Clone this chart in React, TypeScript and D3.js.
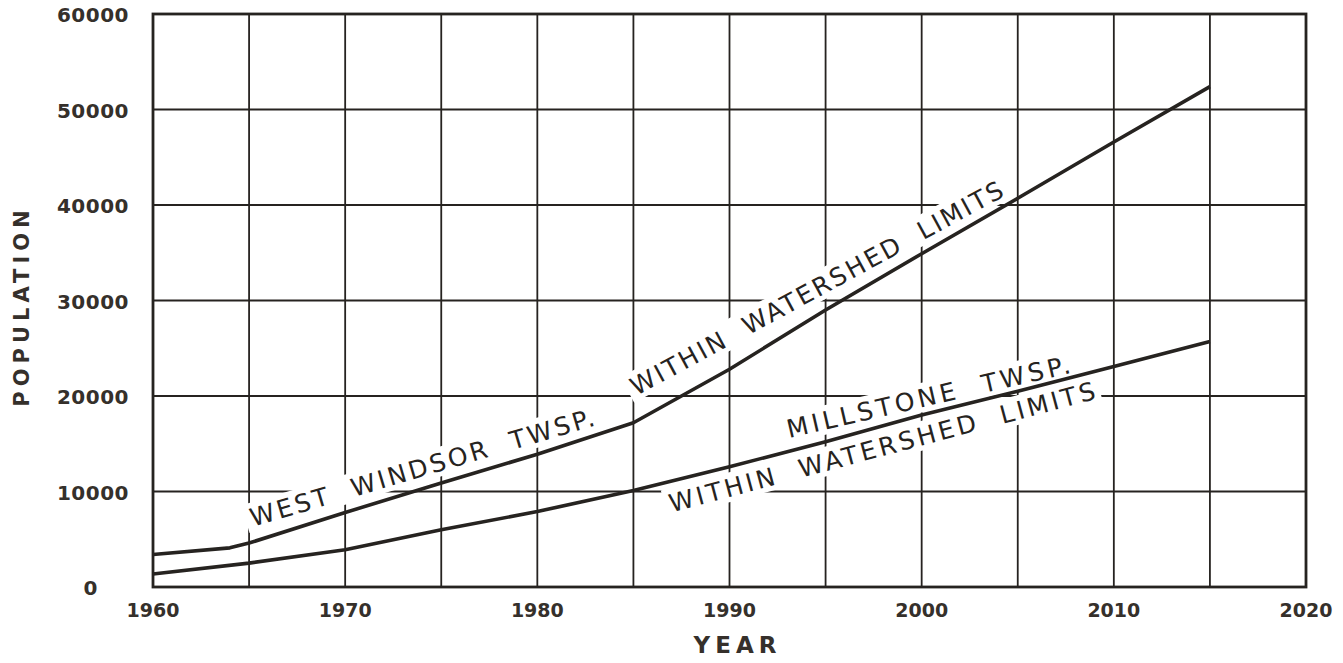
import React from "react";
import * as d3 from "d3";

const xTicks = [1960, 1970, 1980, 1990, 2000, 2010, 2020];
const xGrid = [1960, 1965, 1970, 1975, 1980, 1985, 1990, 1995, 2000, 2005, 2010, 2015, 2020];
const yTicks = [0, 10000, 20000, 30000, 40000, 50000, 60000];

const westWindsorYears = [1960, 1964, 1965, 1970, 1975, 1980, 1985, 1990, 1995, 2000, 2005, 2010, 2015];
const westWindsorPop = [3400, 4100, 4600, 7800, 10900, 13900, 17200, 22800, 29000, 34900, 40700, 46600, 52400];

const millstoneYears = [1960, 1965, 1970, 1975, 1980, 1985, 1990, 1995, 2000, 2005, 2010, 2015];
const millstonePop = [1360, 2500, 3900, 6000, 7900, 10100, 12600, 15200, 18000, 20500, 23100, 25700];

const labelTexts = ["WEST  WINDSOR  TWSP.", "WITHIN  WATERSHED  LIMITS", "MILLSTONE  TWSP.", "WITHIN  WATERSHED  LIMITS"];
const labelYears = [1965.2, 1985.15, 1993.1, 1987.0];
const labelValues = [6300, 20000, 15600, 7800];
const labelAngles = [-16.5, -28.5, -13, -15];
const labelLengths = [358, 420, 290, 440];

const W = 1343;
const H = 663;
const x = d3.scaleLinear().domain([1960, 2020]).range([153, 1306]);
const y = d3.scaleLinear().domain([0, 60000]).range([587, 14]);

const ink = "#262320";
const font = "'DejaVu Sans', sans-serif";

export default function App() {
  const line = d3
    .line<[number, number]>()
    .x((d) => x(d[0]))
    .y((d) => y(d[1]));
  const ww = line(westWindsorYears.map((yr, i) => [yr, westWindsorPop[i]]) as [number, number][]);
  const ms = line(millstoneYears.map((yr, i) => [yr, millstonePop[i]]) as [number, number][]);

  const tf = (i: number) =>
    `translate(${x(labelYears[i])},${y(labelValues[i])}) rotate(${labelAngles[i]})`;

  return (
    <svg
      width={W}
      height={H}
      style={{ position: "absolute", left: 0, top: 0, background: "#fff" }}
    >
      <rect x={0} y={0} width={W} height={H} fill="#fff" />
      {/* grid */}
      {xGrid.map((g) => (
        <line key={"vx" + g} x1={x(g)} x2={x(g)} y1={y(0)} y2={y(60000)} stroke={ink} strokeWidth={1.8} />
      ))}
      {yTicks.map((t) => (
        <line key={"hy" + t} x1={x(1960)} x2={x(2020)} y1={y(t)} y2={y(t)} stroke={ink} strokeWidth={1.8} />
      ))}
      {/* frame */}
      <rect
        x={x(1960)}
        y={y(60000)}
        width={x(2020) - x(1960)}
        height={y(0) - y(60000)}
        fill="none"
        stroke={ink}
        strokeWidth={2.8}
      />
      {/* white bands behind annotations (grid broken under lettering) */}
      {labelTexts.map((t, i) => (
        <rect
          key={"band" + i}
          transform={tf(i)}
          x={-5}
          y={-24}
          width={labelLengths[i] + 10}
          height={29}
          fill="#fff"
        />
      ))}
      {/* data lines */}
      <path d={ww ?? ""} fill="none" stroke={ink} strokeWidth={3.6} strokeLinejoin="round" />
      <path d={ms ?? ""} fill="none" stroke={ink} strokeWidth={3.6} strokeLinejoin="round" />

      {/* annotations */}
      {labelTexts.map((t, i) => (
        <text
          key={"lab" + i}
          transform={tf(i)}
          fontFamily={font}
          fontSize={25}
          fill={ink}
          textLength={labelLengths[i]}
          lengthAdjust="spacing"
          style={{ whiteSpace: "pre" }}
        >
          {t}
        </text>
      ))}

      {/* y tick labels */}
      {yTicks.map((t) => (
        <text
          key={"yt" + t}
          x={t === 0 ? 98 : 129}
          y={y(t) + 8}
          textAnchor="end"
          fontFamily={font}
          fontWeight="bold"
          fontSize={20}
          fill="#35302b"
          letterSpacing={0.5}
        >
          {t}
        </text>
      ))}
      {/* x tick labels */}
      {xTicks.map((t) => (
        <text
          key={"xt" + t}
          x={x(t)}
          y={617}
          textAnchor="middle"
          fontFamily={font}
          fontWeight="bold"
          fontSize={19}
          fill="#35302b"
        >
          {t}
        </text>
      ))}
      {/* axis titles */}
      <text
        x={(x(1960) + x(2020)) / 2 + 8}
        y={653}
        textAnchor="middle"
        fontFamily={font}
        fontWeight="bold"
        fontSize={23}
        letterSpacing={5}
        fill="#35302b"
      >
        YEAR
      </text>
      <text
        transform={`translate(29,${306}) rotate(-90)`}
        textAnchor="middle"
        fontFamily={font}
        fontWeight="bold"
        fontSize={21}
        letterSpacing={5}
        fill="#35302b"
      >
        POPULATION
      </text>
    </svg>
  );
}
